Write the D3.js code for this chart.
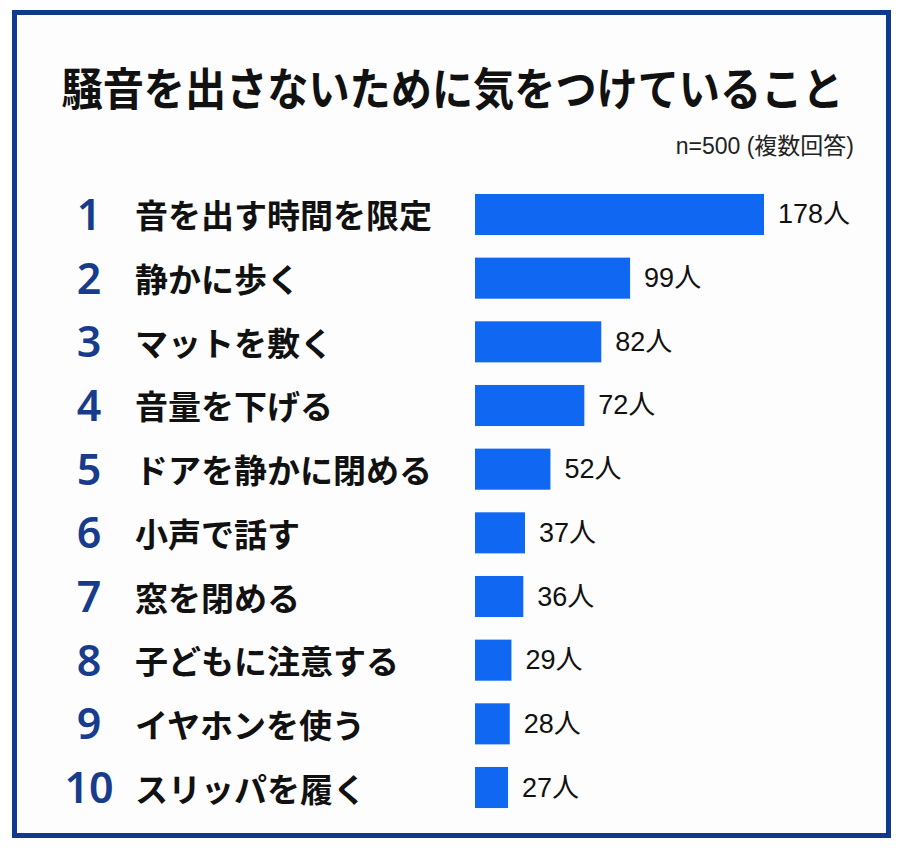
<!DOCTYPE html>
<html>
<head>
<meta charset="utf-8">
<script src="https://cdn.jsdelivr.net/npm/d3@7"></script>
<style>
  body { margin: 0; background: #fff; }
</style>
</head>
<body>
<svg width="900" height="852"></svg>
<script>
const titleText = "騒音を出さないために気をつけていること";
const noteText = "n=500 (複数回答)";
const ranks = [1, 2, 3, 4, 5, 6, 7, 8, 9, 10];
const items = ["音を出す時間を限定", "静かに歩く", "マットを敷く", "音量を下げる", "ドアを静かに閉める",
    "小声で話す", "窓を閉める", "子どもに注意する", "イヤホンを使う", "スリッパを履く"];
const counts = [178, 99, 82, 72, 52, 37, 36, 29, 28, 27];
const unit = "人";

const svg = d3.select("svg"),
    width = +svg.attr("width"),
    height = +svg.attr("height");

const navy = "#183c8c",
    barBlue = "#0f67f2";

// frame
svg.append("rect")
    .attr("x", 14.5).attr("y", 12.5)
    .attr("width", 874).attr("height", 823)
    .attr("fill", "#fdfdfd")
    .attr("stroke", "#103a8e")
    .attr("stroke-width", 5);

// title is a little condensed in the original
svg.append("text")
    .attr("transform", "translate(452.5,86) scale(0.915,1)")
    .attr("text-anchor", "middle")
    .attr("dominant-baseline", "central")
    .style("font-family", "'Noto Sans CJK JP'")
    .style("font-weight", 700)
    .style("font-size", "45px")
    .attr("fill", "#111")
    .text(titleText);

svg.append("text")
    .attr("x", 854).attr("y", 146)
    .attr("text-anchor", "end")
    .attr("dominant-baseline", "central")
    .style("font-family", "'Liberation Sans', 'Noto Sans CJK JP'")
    .style("font-size", "23px")
    .attr("fill", "#222")
    .text(noteText);

const y = d3.scaleBand()
    .domain(ranks)
    .range([182.5, 819.5])
    .paddingInner(0.355)
    .paddingOuter(0.18);

// baseline of the bars is not at zero in the original picture
const x = d3.scaleLinear()
    .domain([7.5, 178])
    .range([475, 764]);

const rows = svg.append("g").selectAll("g")
    .data(ranks.map((r, i) => ({rank: r, item: items[i], count: counts[i]})))
    .join("g");

rows.append("rect")
    .attr("x", x(7.5))
    .attr("y", d => y(d.rank))
    .attr("width", d => x(d.count) - x(7.5))
    .attr("height", y.bandwidth())
    .attr("fill", barBlue);

rows.append("text")
    .attr("x", 89)
    .attr("y", d => y(d.rank) + y.bandwidth() / 2)
    .attr("text-anchor", "middle")
    .attr("dy", "0.36em")
    .style("font-family", "'Noto Sans'")
    .style("font-weight", 600)
    .style("font-size", "43px")
    .attr("fill", navy)
    .text(d => d.rank);

rows.append("text")
    .attr("x", 135)
    .attr("y", d => y(d.rank) + y.bandwidth() / 2)
    .attr("dominant-baseline", "central")
    .style("font-family", "'Noto Sans CJK JP'")
    .style("font-weight", 700)
    .style("font-size", "33px")
    .attr("fill", "#111")
    .text(d => d.item);

rows.append("text")
    .attr("x", d => x(d.count) + 14)
    .attr("y", d => y(d.rank) + y.bandwidth() / 2)
    .attr("dominant-baseline", "central")
    .style("font-family", "'Liberation Sans', 'Noto Sans CJK JP'")
    .style("font-size", "27px")
    .attr("fill", "#111")
    .text(d => d.count + unit);
</script>
</body>
</html>
